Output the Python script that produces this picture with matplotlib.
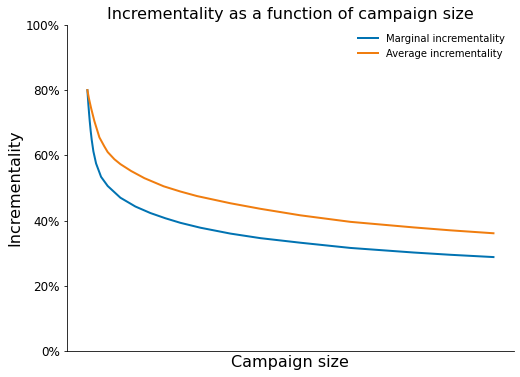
import matplotlib
matplotlib.use("Agg")
import matplotlib.pyplot as plt
from matplotlib.ticker import PercentFormatter

# campaign size (arbitrary units, 0-100) and incrementality (%)
size_marginal = [0, 0.25, 0.42, 0.57, 0.81, 1.06, 1.48, 2.14, 3.37, 5.0, 8.13, 11.82,
                 15.52, 19.21, 22.91, 27.83, 35.22, 42.61, 52.46, 64.78, 80.3, 89.41, 100]
marginal = [80.0, 75.5, 72.8, 70.6, 67.5, 64.8, 61.2, 57.5, 53.4, 50.6, 47.0, 44.3,
            42.3, 40.7, 39.3, 37.8, 36.0, 34.6, 33.2, 31.6, 30.2, 29.5, 28.8]

size_average = [0, 0.37, 0.91, 1.72, 2.96, 4.19, 5.0, 6.65, 8.13, 10.76, 14.04,
                18.79, 22.91, 27.02, 35.22, 42.61, 52.46, 64.78, 80.3, 89.41, 100]
average = [80.0, 77.5, 74.5, 70.5, 65.5, 62.7, 61.0, 58.8, 57.3, 55.2, 53.0,
           50.5, 48.9, 47.5, 45.3, 43.6, 41.6, 39.6, 37.9, 37.0, 36.1]

fig = plt.figure(figsize=(520/72, 377/72), dpi=72)
ax = fig.add_axes([0.129, 0.069, 0.859, 0.865])

ax.plot(size_marginal, marginal, color='#0173B2', lw=2, label='Marginal incrementality')
ax.plot(size_average, average, color='#F07D0F', lw=2, label='Average incrementality')

ax.set_ylim(0, 100)
ax.set_yticks([0, 20, 40, 60, 80, 100])
ax.yaxis.set_major_formatter(PercentFormatter(xmax=100, decimals=0))
ax.tick_params(axis='y', labelsize=12)
ax.set_xticks([])

ax.spines['top'].set_visible(False)
ax.spines['right'].set_visible(False)

ax.set_title('Incrementality as a function of campaign size', fontsize=16)
ax.set_xlabel('Campaign size', fontsize=16)
ax.set_ylabel('Incrementality', fontsize=16)
ax.legend(frameon=False, loc='upper right', fontsize=10)

fig.savefig('out.png', dpi=72)
